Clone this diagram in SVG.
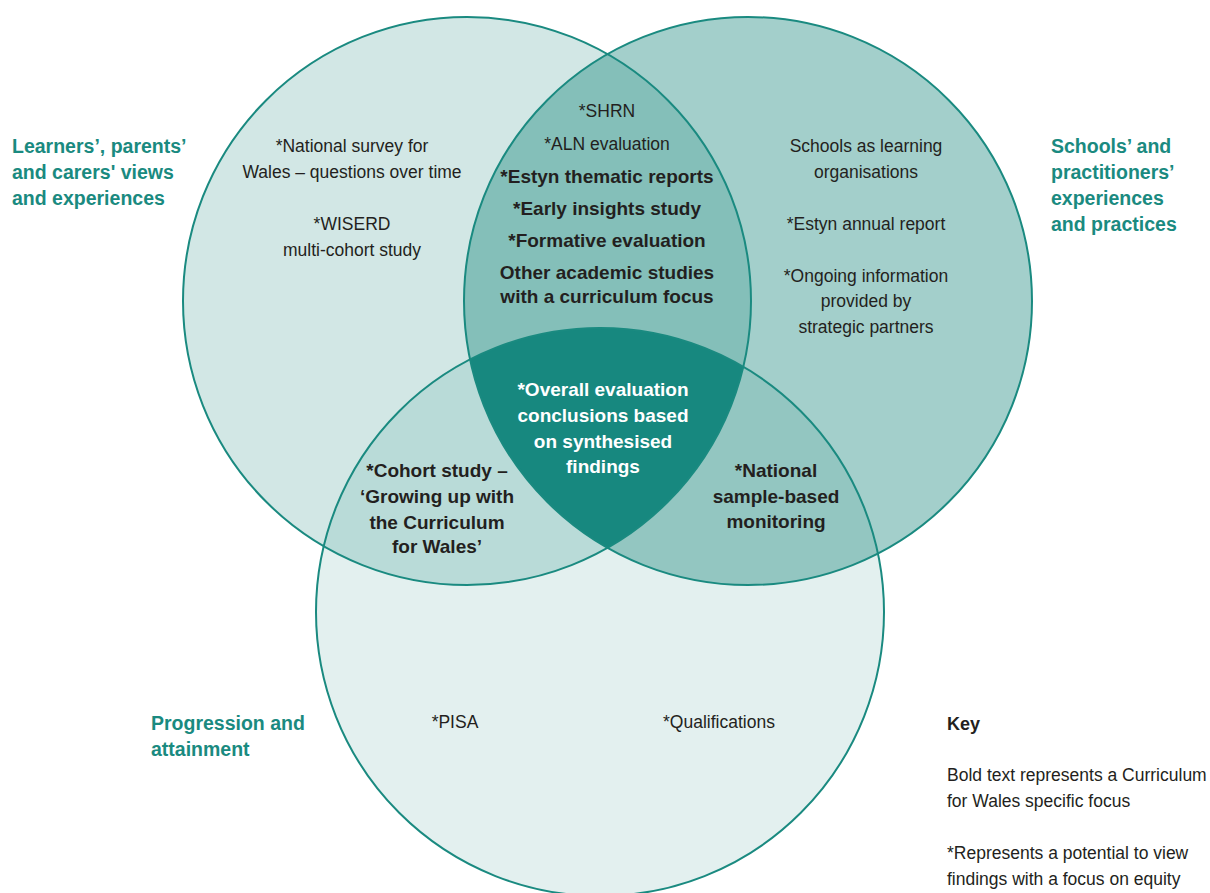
<svg xmlns="http://www.w3.org/2000/svg" width="1210" height="893" viewBox="0 0 1210 893">
  <style>
    text { font-family: "Liberation Sans", Arial, sans-serif; font-size: 17.5px; fill: #231f20; text-anchor: middle; }
    .b { font-weight: bold; font-size: 19px; }
    .w { fill: #ffffff; font-weight: bold; font-size: 19px; }
    .lab { fill: #1a8a80; font-weight: bold; text-anchor: start; font-size: 19.5px; }
    .key { text-anchor: start; }
    .ring { fill: none; stroke: #1a8a80; stroke-width: 2; }
  </style>
  <defs>
    <clipPath id="clipL"><circle cx="467" cy="301" r="284"/></clipPath>
    <clipPath id="clipR"><circle cx="748" cy="301" r="284"/></clipPath>
    <clipPath id="clipB"><circle cx="600" cy="612" r="284"/></clipPath>
  </defs>
  <rect width="1210" height="893" fill="#ffffff"/>

  <!-- region fills: each overlap painted on top of the single-circle fills -->
  <g id="fills">
    <circle cx="600" cy="612" r="284" fill="#e3f0ef"/>
    <circle cx="467" cy="301" r="284" fill="#d2e7e5"/>
    <circle cx="748" cy="301" r="284" fill="#a3cfcb"/>
    <circle cx="467" cy="301" r="284" fill="#84bfb9" clip-path="url(#clipR)"/>
    <circle cx="467" cy="301" r="284" fill="#b9dbd8" clip-path="url(#clipB)"/>
    <circle cx="748" cy="301" r="284" fill="#93c6c1" clip-path="url(#clipB)"/>
    <g clip-path="url(#clipB)">
      <circle cx="467" cy="301" r="284" fill="#17887f" clip-path="url(#clipR)"/>
    </g>
  </g>

  <!-- circle outlines -->
  <g id="connectors">
    <circle class="ring" cx="467" cy="301" r="284"/>
    <circle class="ring" cx="748" cy="301" r="284"/>
    <circle class="ring" cx="600" cy="612" r="284"/>
  </g>

  <g id="learners">
    <text x="352" y="152">*National survey for</text>
    <text x="352" y="178">Wales – questions over time</text>
    <text x="352" y="230">*WISERD</text>
    <text x="352" y="256">multi-cohort study</text>
  </g>

  <g id="learners-schools">
    <text x="607" y="117">*SHRN</text>
    <text x="607" y="150">*ALN evaluation</text>
    <text class="b" x="607" y="183">*Estyn thematic reports</text>
    <text class="b" x="607" y="215">*Early insights study</text>
    <text class="b" x="607" y="247">*Formative evaluation</text>
    <text class="b" x="607" y="279">Other academic studies</text>
    <text class="b" x="607" y="303">with a curriculum focus</text>
  </g>

  <g id="schools">
    <text x="866" y="152">Schools as learning</text>
    <text x="866" y="178">organisations</text>
    <text x="866" y="230">*Estyn annual report</text>
    <text x="866" y="282">*Ongoing information</text>
    <text x="866" y="307">provided by</text>
    <text x="866" y="333">strategic partners</text>
  </g>

  <g id="overall">
    <text class="w" x="603" y="396">*Overall evaluation</text>
    <text class="w" x="603" y="422">conclusions based</text>
    <text class="w" x="603" y="448">on synthesised</text>
    <text class="w" x="603" y="473">findings</text>
  </g>

  <g id="learners-progression">
    <text class="b" x="437" y="477">*Cohort study –</text>
    <text class="b" x="437" y="503">‘Growing up with</text>
    <text class="b" x="437" y="529">the Curriculum</text>
    <text class="b" x="437" y="553">for Wales’</text>
  </g>

  <g id="schools-progression">
    <text class="b" x="776" y="477">*National</text>
    <text class="b" x="776" y="503">sample-based</text>
    <text class="b" x="776" y="528">monitoring</text>
  </g>

  <g id="progression">
    <text x="455" y="728">*PISA</text>
    <text x="719" y="728">*Qualifications</text>
  </g>

  <g id="label-learners">
    <text class="lab" x="12" y="153">Learners’, parents’</text>
    <text class="lab" x="12" y="179">and carers' views</text>
    <text class="lab" x="12" y="205">and experiences</text>
  </g>

  <g id="label-schools">
    <text class="lab" x="1051" y="153">Schools’ and</text>
    <text class="lab" x="1051" y="179">practitioners’</text>
    <text class="lab" x="1051" y="205">experiences</text>
    <text class="lab" x="1051" y="231">and practices</text>
  </g>

  <g id="label-progression">
    <text class="lab" x="151" y="730">Progression and</text>
    <text class="lab" x="151" y="756">attainment</text>
  </g>

  <g id="key">
    <text class="key b" x="947" y="730" style="font-size:18px">Key</text>
    <text class="key" x="947" y="781">Bold text represents a Curriculum</text>
    <text class="key" x="947" y="807">for Wales specific focus</text>
    <text class="key" x="947" y="859">*Represents a potential to view</text>
    <text class="key" x="947" y="885">findings with a focus on equity</text>
  </g>
</svg>
